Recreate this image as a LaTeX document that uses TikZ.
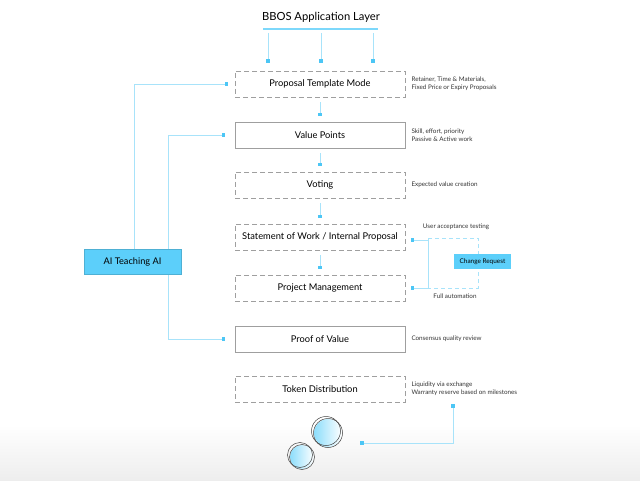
\documentclass[tikz,border=0pt]{standalone}
\usepackage{fontspec}
\setmainfont{Lato}
\usetikzlibrary{positioning}

\definecolor{aicyan}{HTML}{5CCFFA}
\definecolor{linkcyan}{HTML}{A8E3FA}
\definecolor{dotcyan}{HTML}{4CC6F5}

\tikzset{
  stage/.style={draw=gray!75, line width=0.6pt, minimum width=170pt, minimum height=26pt, font=\fontsize{9.3}{11}\selectfont},
  dashstage/.style={stage, dash pattern=on 5pt off 3pt},
  note/.style={font=\fontsize{6.3}{8}\selectfont, align=left, inner sep=1pt, text=black!80},
  link/.style={linkcyan, line width=0.9pt},
  sqdot/.style={fill=dotcyan, inner sep=0pt, minimum size=3.2pt},
}

\begin{document}
\begin{tikzpicture}[x=1pt, y=-1pt]

\useasboundingbox (0,0) rectangle (640,481);

% Fond gris en bas
\shade[top color=white, bottom color=black!7] (0,425) rectangle (640,481);

% Titre
\node[font=\fontsize{11.2}{13}\selectfont] (bbos) at (321,17) {BBOS Application Layer};
\draw[aicyan!80, line width=2.6pt] (263,29) -- (378,29);
\foreach \i/\xx in {1/268,2/321,3/373} {
  \node[sqdot] (top\i) at (\xx,61) {};
  \draw[link] (\xx,33) -- (top\i);
}

% Etapes
\node[dashstage] (ptm) at (320,84) {Proposal Template Mode};
\node[stage] (vp) at (320,135) {Value Points};
\node[dashstage] (vot) at (320,185) {Voting};
\node[dashstage] (sow) at (320,237) {Statement of Work / Internal Proposal};
\node[dashstage] (pm) at (320,288) {Project Management};
\node[stage] (pov) at (320,339) {Proof of Value};
\node[dashstage] (td) at (320,389) {Token Distribution};

% Liens entre etapes
\foreach \a/\b in {ptm/vp, vp/vot, vot/sow, sow/pm} {
  \node[sqdot] (\a-\b) at ([yshift=7pt]\b.north) {};
  \draw[link] ([yshift=-5pt]\a.south) -- (\a-\b);
}

% Notes a droite
\node[note, anchor=west, right=5pt of ptm] (nptm) {Retainer, Time \& Materials,\\Fixed Price or Expiry Proposals};
\node[note, anchor=west, right=5pt of vp] (nvp) {Skill, effort, priority\\Passive \& Active work};
\node[note, anchor=west, right=5pt of vot] (nvot) {Expected value creation};
\node[note, anchor=west, right=5pt of pov] (npov) {Consensus quality review};
\node[note, anchor=west, right=5pt of td] (ntd) {Liquidity via exchange\\Warranty reserve based on milestones};

% AI Teaching AI
\node[sqdot] (dptm) at ([xshift=-8pt]ptm.west) {};
\node[sqdot] (dvp) at ([xshift=-11pt]vp.west) {};
\node[sqdot] (dpov) at ([xshift=-11pt]pov.west) {};
\coordinate (aiup) at (134,249);
\draw[link] (aiup) |- (dptm);
\draw[link] (dvp) -- ++(-55,0) |- (dpov);
\node[fill=aicyan, draw=aicyan!85!black, line width=0.3pt, minimum width=97pt, minimum height=25pt,
  font=\fontsize{9.2}{10}\selectfont] (ai) at (132.5,261.5) {AI Teaching AI};

% Boucle Change Request
\node[sqdot] (dsow) at ([xshift=7pt,yshift=-3pt]sow.east) {};
\node[sqdot] (dpm) at ([xshift=7pt]pm.east) {};
\coordinate (crtl) at (428,238);
\coordinate (crbr) at (478,288);
\draw[link, dash pattern=on 4pt off 3pt] (crtl) rectangle (crbr);
\draw[link] (dsow) -| (crtl |- dpm) -- (dpm);
\node[fill=aicyan, inner sep=0pt, minimum width=57pt, minimum height=15pt,
  font=\fontsize{6.4}{7}\selectfont] (cr) at (482.5,261.5) {Change Request};
\node[note] (nuat) at (456,227) {User acceptance testing};
\node[note] (nfa) at (455,296) {Full automation};

% Jetons
\coordinate (coinA) at (328,433);
\coordinate (coinB) at (302,457);
\shade[left color=aicyan!70, right color=white] (coinA) circle (14);
\draw[black!75, line width=0.5pt] (coinA) circle (14.5);
\draw[black!75, line width=0.5pt] ([xshift=-2pt,yshift=2pt]coinA) circle (14.5);
\shade[left color=aicyan!70, right color=white] (coinB) circle (12);
\draw[black!75, line width=0.5pt] (coinB) circle (12.5);
\draw[black!75, line width=0.5pt] ([xshift=-2pt,yshift=2pt]coinB) circle (12.5);

\node[sqdot] (dcoin) at (362,443) {};
\node[sqdot] (dtd) at (453,406) {};
\draw[link] (dcoin) -| (dtd);

\end{tikzpicture}
\end{document}
